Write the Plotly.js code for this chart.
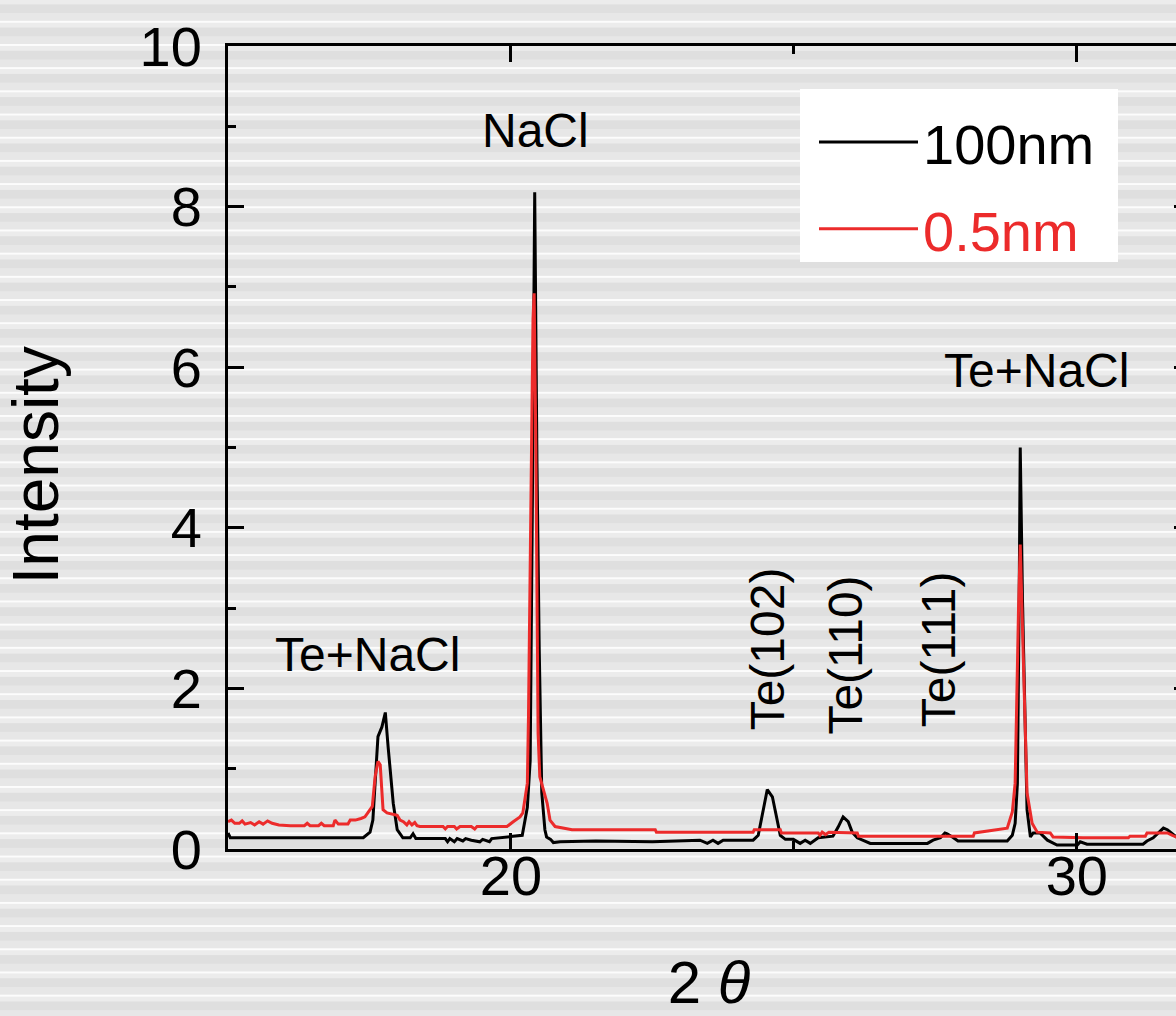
<!DOCTYPE html>
<html>
<head>
<meta charset="utf-8">
<script src="https://cdn.plot.ly/plotly-3.0.1.min.js"></script>
<style>
  html, body {
    margin: 0; padding: 0; width: 1176px; height: 1016px; overflow: hidden;
    background-color: #e6e6e6;
    background-image: linear-gradient(to bottom, #fcfcfc 0px, #fcfcfc 2.3px, #ececec 2.3px, #ececec 7px, #dfdfdf 7px, #dfdfdf 15px, #e7e7e7 15px, #e7e7e7 100%);
    background-size: 100% 23.2px;
    background-position: 0 20.8px;
  }
  #chart { width: 1200px; height: 1016px; }
</style>
</head>
<body>
<div id="chart"></div>
<script>
// ---- data ----
const seriesNames = ['100nm', '0.5nm'];

const twoTheta100 = [15.00,15.04,17.39,17.51,17.56,17.63,17.65,17.72,17.78,17.83,17.92,17.99,18.09,18.22,18.27,18.32,
  18.84,18.88,18.92,19.00,19.05,19.15,19.20,19.30,19.45,19.50,19.62,19.66,20.20,20.29,20.34,20.38,20.42,20.46,20.50,
  20.545,20.60,20.63,20.70,20.75,20.87,21.50,22.50,23.34,23.47,23.57,23.66,23.75,24.28,24.37,24.46,24.53,24.62,24.71,
  24.76,24.85,24.99,25.11,25.20,25.29,25.43,25.69,25.78,25.87,25.96,26.03,26.12,26.35,27.36,27.46,27.59,27.67,27.71,
  27.82,27.90,28.77,28.86,28.91,28.95,28.98,29.00,29.04,29.09,29.12,29.18,29.23,29.35,29.48,29.65,30.01,30.06,30.18,
  31.17,31.24,31.35,31.53,31.60,31.76,32.00];
const intensity100 = [0.20,0.14,0.14,0.21,0.36,1.23,1.40,1.52,1.70,1.27,0.57,0.24,0.14,0.14,0.19,0.13,
  0.13,0.09,0.13,0.09,0.13,0.10,0.13,0.11,0.09,0.12,0.09,0.13,0.17,0.52,1.10,4.40,8.18,4.80,2.48,
  0.70,0.24,0.15,0.12,0.08,0.09,0.10,0.09,0.11,0.07,0.11,0.07,0.11,0.11,0.17,0.49,0.74,0.65,0.36,
  0.17,0.12,0.12,0.07,0.11,0.07,0.14,0.16,0.27,0.40,0.34,0.21,0.14,0.07,0.07,0.11,0.14,0.20,0.19,
  0.14,0.10,0.10,0.17,0.32,0.82,3.00,5.00,3.10,1.44,0.49,0.15,0.20,0.20,0.11,0.05,0.05,0.09,0.06,
  0.06,0.10,0.14,0.26,0.24,0.15,0.11];

const twoTheta05 = [15.00,15.06,15.12,15.20,15.25,15.30,15.40,15.47,15.55,15.62,15.70,15.78,15.90,16.10,16.35,16.40,
  16.45,16.60,16.65,16.70,16.86,16.89,16.95,17.12,17.16,17.25,17.35,17.42,17.47,17.55,17.60,17.65,17.69,17.72,17.74,
  17.81,17.99,18.04,18.10,18.16,18.20,18.25,18.30,18.34,18.39,18.80,18.84,18.88,19.00,19.04,19.10,19.30,19.36,19.40,
  19.93,20.04,20.16,20.21,20.29,20.31,20.37,20.39,20.41,20.44,20.48,20.51,20.64,20.69,20.78,21.08,22.55,22.57,24.28,
  24.30,24.76,24.78,25.43,25.46,25.50,25.56,25.62,26.12,26.14,28.17,28.19,28.65,28.77,28.86,28.91,28.97,29.00,29.03,
  29.09,29.12,29.21,29.30,29.53,29.58,30.11,30.91,30.94,31.21,31.24,31.60,31.69,31.76,32.00];
const intensity05 = [0.34,0.36,0.32,0.32,0.35,0.31,0.33,0.30,0.34,0.31,0.35,0.32,0.30,0.29,0.29,0.32,
  0.29,0.29,0.32,0.29,0.29,0.36,0.31,0.31,0.36,0.36,0.38,0.40,0.45,0.53,0.90,1.09,1.05,0.74,0.49,
  0.45,0.42,0.36,0.34,0.30,0.34,0.30,0.33,0.29,0.28,0.28,0.25,0.28,0.28,0.25,0.28,0.28,0.25,0.28,
  0.28,0.34,0.40,0.45,0.82,1.65,5.50,6.60,6.92,5.00,1.44,0.90,0.57,0.36,0.28,0.24,0.24,0.21,0.21,
  0.24,0.24,0.20,0.20,0.17,0.21,0.18,0.21,0.20,0.16,0.16,0.20,0.25,0.26,0.46,0.82,3.00,3.79,3.00,
  1.50,0.70,0.32,0.21,0.20,0.15,0.14,0.14,0.16,0.16,0.20,0.20,0.17,0.15,0.15];

const xTickVals = [20, 30];
const yTickVals = [0, 2, 4, 6, 8, 10];
const peakLabels = ['Te+NaCl', 'NaCl', 'Te(102)', 'Te(110)', 'Te(111)', 'Te+NaCl'];
const peakLabelX = [17.47, 20.43, 24.53, 25.92, 27.55, 29.28];
const peakLabelY = [2.42, 8.95, 2.49, 2.42, 2.49, 5.96];
const peakLabelAngle = [0, 0, -90, -90, -90, 0];

// ---- chart ----
const black = '#000000';
const red = '#ec2b2b';

const traces = [
  { x: twoTheta100, y: intensity100, type: 'scatter', mode: 'lines', name: seriesNames[0],
    legendgroup: 'a', line: { color: black, width: 3 } },
  { x: twoTheta05, y: intensity05, type: 'scatter', mode: 'lines',
    name: '<span style="color:' + red + '">' + seriesNames[1] + '</span>',
    legendgroup: 'b', line: { color: red, width: 3 } }
];

const annotations = peakLabels.map((t, i) => ({
  x: peakLabelX[i], y: peakLabelY[i], xref: 'x', yref: 'y', text: t, showarrow: false,
  textangle: peakLabelAngle[i], xanchor: 'center', yanchor: 'middle',
  font: { size: 48, color: '#000' }
}));

const axisCommon = {
  showline: true, linewidth: 3, linecolor: '#000', mirror: 'ticks',
  ticks: 'inside', ticklen: 16, tickwidth: 2.5, tickcolor: '#000',
  showgrid: false, zeroline: false, tickfont: { size: 56, color: '#000' }
};

const layout = {
  width: 1200, height: 1016,
  margin: { l: 228, r: 10, t: 46, b: 167 },
  paper_bgcolor: 'rgba(0,0,0,0)', plot_bgcolor: 'rgba(0,0,0,0)',
  font: { family: '"Liberation Sans", Arial, sans-serif', color: '#000' },
  showlegend: true,
  legend: {
    x: (814 - 228) / 962, y: (849 - 99) / 803, xanchor: 'left', yanchor: 'top',
    bgcolor: 'rgba(0,0,0,0)', borderwidth: 0, font: { size: 56, color: '#000' },
    itemwidth: 99, tracegroupgap: 11, traceorder: 'grouped'
  },
  shapes: [{
    type: 'rect', xref: 'paper', yref: 'paper', layer: 'below',
    x0: (800 - 228) / 962, x1: (1118 - 228) / 962, y0: (849 - 262) / 803, y1: (849 - 89) / 803,
    fillcolor: '#ffffff', line: { width: 0 }
  }],
  xaxis: Object.assign({}, axisCommon, {
    range: [15, 32], tickmode: 'array', tickvals: xTickVals, ticklabelstandoff: -24,
    minor: { dtick: 5, tick0: 0, ticks: 'inside', ticklen: 8, tickwidth: 2.5, tickcolor: '#000' },
    title: { text: '2 <i>θ</i>', font: { size: 60, color: '#000' }, standoff: 74 }
  }),
  yaxis: Object.assign({}, axisCommon, {
    range: [0, 10], tickmode: 'array', tickvals: yTickVals, ticklabelstandoff: 12,
    minor: { dtick: 1, tick0: 0, ticks: 'inside', ticklen: 8, tickwidth: 2.5, tickcolor: '#000' },
    title: { text: 'Intensity&nbsp;&nbsp;', font: { size: 64, color: '#000' }, standoff: 70 }
  }),
  annotations: annotations
};

Plotly.newPlot('chart', traces, layout, { displayModeBar: false, responsive: false });
</script>
</body>
</html>
